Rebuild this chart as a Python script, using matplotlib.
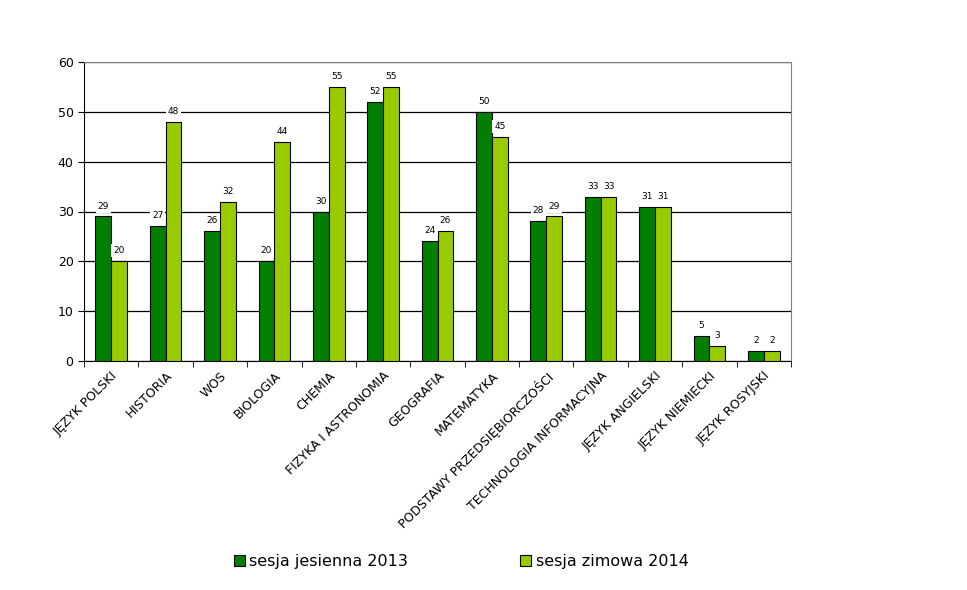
import numpy as np
import matplotlib.pyplot as plt

# dane z wykresu
przedmioty = ['JĘZYK POLSKI', 'HISTORIA', 'WOS', 'BIOLOGIA', 'CHEMIA',
              'FIZYKA I ASTRONOMIA', 'GEOGRAFIA', 'MATEMATYKA',
              'PODSTAWY PRZEDSIĘBIORCZOŚCI', 'TECHNOLOGIA INFORMACYJNA',
              'JĘZYK ANGIELSKI', 'JĘZYK NIEMIECKI', 'JĘZYK ROSYJSKI']
jesien_2013 = [29, 27, 26, 20, 30, 52, 24, 50, 28, 33, 31, 5, 2]
zima_2014 = [20, 48, 32, 44, 55, 55, 26, 45, 29, 33, 31, 3, 2]

plt.rcParams['font.family'] = ['DejaVu Sans']

fig = plt.figure(figsize=(9.67, 5.90), dpi=100)
ax = fig.add_axes([84/967, 1-361/590, (791-84)/967, (361-62)/590])

x = np.arange(len(przedmioty))
w = 0.29
b1 = ax.bar(x - w/2, jesien_2013, w, color='#007f00', edgecolor='black', linewidth=0.8,
            label='sesja jesienna 2013', zorder=3)
b2 = ax.bar(x + w/2, zima_2014, w, color='#99cc00', edgecolor='black', linewidth=0.8,
            label='sesja zimowa 2014', zorder=3)

# etykiety z wartosciami
for bars in (b1, b2):
    for r in bars:
        ax.text(r.get_x() + r.get_width()/2, r.get_height() + 1.2, str(int(r.get_height())),
                ha='center', va='bottom', fontsize=6.5, zorder=5,
                bbox=dict(facecolor='white', edgecolor='none', pad=1.5))

ax.set_xlim(-0.5, len(przedmioty) - 0.5)
ax.set_ylim(0, 60)
ax.set_yticks(range(0, 61, 10))
ax.yaxis.grid(True, color='black', linewidth=0.9, zorder=0)
ax.tick_params(axis='y', labelsize=9, length=4, direction='out')

ax.set_xticks(x)
ax.set_xticklabels(przedmioty, rotation=45, ha='right', rotation_mode='anchor', fontsize=9)
ax.tick_params(axis='x', which='major', length=0, pad=6)
ax.set_xticks(np.arange(-0.5, len(przedmioty)), minor=True)
ax.tick_params(axis='x', which='minor', length=4, direction='out')

for s in ('top', 'right'):
    ax.spines[s].set_color('#808080')
ax.spines['left'].set_color('black')
ax.spines['bottom'].set_color('black')

fig.legend(loc='center', bbox_to_anchor=(0.477, 0.048), ncol=2, frameon=False,
           fontsize=11.5, handlelength=0.7, handleheight=0.7, handletextpad=0.3,
           columnspacing=7.0)

fig.savefig('out.png', dpi=100)
